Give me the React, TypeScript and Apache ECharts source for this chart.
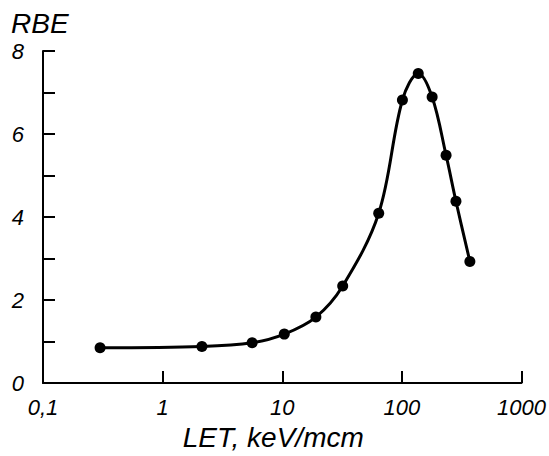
import React, { useEffect, useRef } from "react";
import * as echarts from "echarts";

const letValues = [0.3, 2.13, 5.6, 10.4, 19.1, 32, 64, 101, 137, 179, 234, 283, 370];
const rbeValues = [0.85, 0.88, 0.97, 1.18, 1.59, 2.34, 4.09, 6.82, 7.46, 6.89, 5.49, 4.38, 2.93];
const xTickLabels = ["0,1", "1", "10", "100", "1000"];
const yTickLabels = ["0", "", "2", "", "4", "", "6", "", "8"];

const narrow = "'Liberation Sans Narrow', 'Liberation Sans', Arial, sans-serif";
const sans = "'Liberation Sans', Arial, sans-serif";

export default function App() {
  const ref = useRef<HTMLDivElement>(null);
  useEffect(() => {
    if (!ref.current) return;
    document.body.style.margin = "0";
    const chart = echarts.init(ref.current, undefined, { renderer: "svg" });
    const data = letValues.map((x, i) => [x, rbeValues[i]]);
    chart.setOption({
      animation: false,
      backgroundColor: "#ffffff",
      grid: { left: 43, right: 24, top: 51, bottom: 67, containLabel: false },
      xAxis: {
        type: "log",
        logBase: 10,
        min: 0.1,
        max: 1000,
        name: "LET, keV/mcm",
        nameLocation: "middle",
        nameGap: 32,
        nameTextStyle: { fontFamily: sans, fontStyle: "italic", fontSize: 28, color: "#000", padding: [0, 18, 0, 0] },
        axisLine: { lineStyle: { color: "#000", width: 2 } },
        axisTick: { inside: true, length: 12, lineStyle: { color: "#000", width: 2 } },
        splitLine: { show: false },
        minorTick: { show: false },
        axisLabel: {
          margin: 13,
          fontFamily: narrow,
          fontStyle: "italic",
          fontSize: 22,
          color: "#000",
          formatter: (v: number) => xTickLabels[Math.round(Math.log10(v)) + 1] ?? "",
        },
      },
      yAxis: {
        type: "value",
        min: 0,
        max: 8,
        interval: 1,
        axisLine: { show: true, lineStyle: { color: "#000", width: 2 } },
        axisTick: { show: true, inside: true, length: 12, lineStyle: { color: "#000", width: 2 } },
        splitLine: { show: false },
        axisLabel: {
          margin: 19,
          fontFamily: narrow,
          fontStyle: "italic",
          fontSize: 22,
          color: "#000",
          formatter: (v: number) => yTickLabels[Math.round(v)] ?? "",
        },
      },
      graphic: [
        {
          type: "text",
          left: 11,
          top: 9,
          style: { text: "RBE", font: `italic 28px ${sans}`, fill: "#000" },
        },
      ],
      series: [
        {
          type: "line",
          data,
          smooth: 0.35,
          symbol: "circle",
          symbolSize: 11,
          lineStyle: { color: "#000", width: 3 },
          itemStyle: { color: "#000" },
        },
      ],
    });
    return () => chart.dispose();
  }, []);
  return <div ref={ref} style={{ width: 549, height: 456 }} />;
}
